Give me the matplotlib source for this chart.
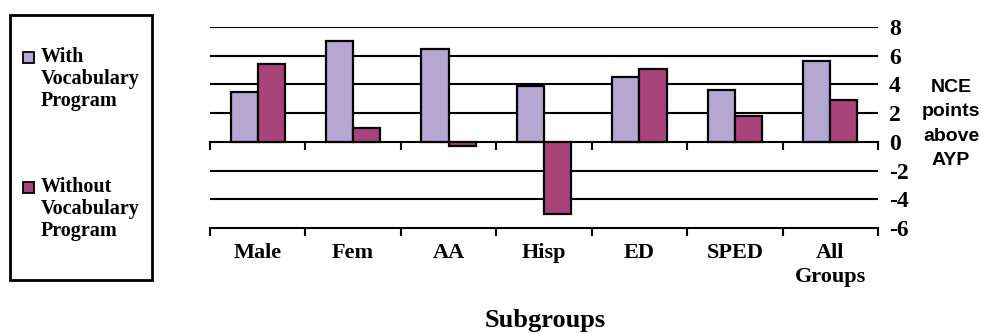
import numpy as np
import matplotlib.pyplot as plt
from matplotlib.patches import Rectangle

categories = ['Male', 'Fem', 'AA', 'Hisp', 'ED', 'SPED', 'All\nGroups']
with_vocab = [3.5, 7.0, 6.5, 3.9, 4.5, 3.6, 5.6]
without_vocab = [5.4, 1.0, -0.3, -5.0, 5.1, 1.8, 2.9]
series_names = ['With\nVocabulary\nProgram', 'Without\nVocabulary\nProgram']
y_ticks = [-6, -4, -2, 0, 2, 4, 6, 8]

colors = ['#B4A7D1', '#A8447A']
serif = 'Liberation Serif'
sans = 'Liberation Sans'

fig = plt.figure(figsize=(9.83, 3.34), dpi=100)
ax = fig.add_axes([210 / 983, 1 - 228 / 334, 668 / 983, 201 / 334])

x = np.arange(len(categories))
w = 0.285
ax.bar(x - w / 2, with_vocab, w, color=colors[0], edgecolor='black', linewidth=1.6, zorder=3)
ax.bar(x + w / 2, without_vocab, w, color=colors[1], edgecolor='black', linewidth=1.6, zorder=3)

ax.set_xlim(-0.5, len(categories) - 0.5)
ax.set_ylim(-6, 8)

# gridlines (not at 0 / -6, those are category axes)
for yv in y_ticks:
    if yv not in (0, -6):
        ax.axhline(yv, color='black', linewidth=1.5, zorder=1)

for s in ['top', 'left', 'right']:
    ax.spines[s].set_visible(False)
ax.spines['bottom'].set_linewidth(1.5)

# category labels + boundary ticks on bottom axis
ax.set_xticks(x)
ax.set_xticklabels(categories, fontfamily=serif, fontweight='bold', fontsize=16, linespacing=1.25)
ax.set_xticks(np.arange(-0.5, len(categories)), minor=True)
ax.tick_params(axis='x', which='major', length=0, pad=11)
ax.tick_params(axis='x', which='minor', length=6, width=1.5, direction='out')

# zero line with its own ticks
zax = ax.secondary_xaxis(6 / 14)
zax.spines['bottom'].set_linewidth(1.5)
zax.set_xticks(np.arange(-0.5, len(categories)))
zax.tick_params(length=6, width=1.5, direction='out', labelbottom=False)
zax.set_zorder(2)

# right side value labels
ax.yaxis.tick_right()
ax.set_yticks(y_ticks)
ax.set_yticklabels([str(v) for v in y_ticks], fontfamily=serif, fontweight='bold', fontsize=17)
ax.tick_params(axis='y', length=0, pad=8)

fig.text(951 / 983, 1 - 124 / 334, 'NCE\npoints\nabove\nAYP', ha='center', va='center',
         fontfamily=sans, fontweight='bold', fontsize=14, linespacing=1.55)
fig.text(545 / 983, 1 - 320 / 334, 'Subgroups', ha='center', va='center',
         fontfamily=serif, fontweight='bold', fontsize=19)

# legend box
fig.patches.append(Rectangle((10 / 983, 1 - 280 / 334), 142 / 983, 265 / 334,
                             transform=fig.transFigure, fill=False, edgecolor='black', linewidth=2))
for i, (name, col) in enumerate(zip(series_names, colors)):
    top = 52 + i * 130
    fig.patches.append(Rectangle((23 / 983, 1 - (top + 11) / 334), 11 / 983, 11 / 334,
                                 transform=fig.transFigure, facecolor=col, edgecolor='black', linewidth=1.3))
    fig.text(41 / 983, 1 - (top - 5) / 334, name, ha='left', va='top',
             fontfamily=serif, fontweight='bold', fontsize=14.5, linespacing=1.12)

fig.savefig('out.png', dpi=100)
